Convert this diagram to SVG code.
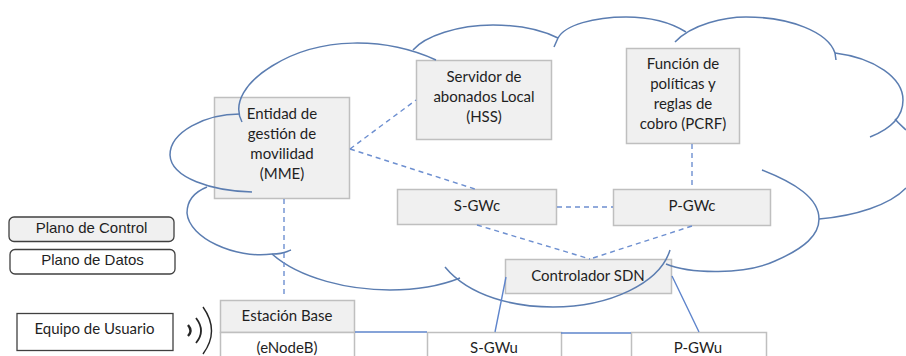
<svg xmlns="http://www.w3.org/2000/svg" width="906" height="356" viewBox="0 0 906 356">
<style>
.cloud{fill:none;stroke:#5b7db1;stroke-width:1.5}
.box{stroke:#bfbfbf;stroke-width:1.5}
.c{fill:#f0f0f0}
.d{fill:#fff}
.dash{fill:none;stroke:#6d8fd0;stroke-width:1.4;stroke-dasharray:5 4}
.solid{fill:none;stroke:#5f85cc;stroke-width:1.4}
text{font-family:Lato,"Open Sans",sans-serif;font-size:15px;fill:#1f1f1f;text-anchor:middle}
.leg{font-family:"Liberation Sans",Arial,sans-serif;font-size:15px}
.lb{stroke:#404040;stroke-width:1.3}
</style>
<rect width="906" height="356" fill="#fff"/>
<g id="mme"><rect class="box c" x="214.500" y="97.500" width="135" height="101"/><text x="282" y="119">Entidad de</text><text x="282" y="139">gestión de</text><text x="282" y="159">movilidad</text><text x="282" y="179">(MME)</text></g>
<g id="hss"><rect class="box c" x="416.500" y="60.500" width="135" height="79"/><text x="484" y="82">Servidor de</text><text x="484" y="102">abonados Local</text><text x="484" y="122">(HSS)</text></g>
<g id="pcrf"><rect class="box c" x="626.500" y="48.500" width="113" height="95"/><text x="683" y="69">Función de</text><text x="683" y="89">políticas y</text><text x="683" y="109">reglas de</text><text x="683" y="129">cobro (PCRF)</text></g>
<g id="sgwc"><rect class="box c" x="397.500" y="189.500" width="159" height="35"/><text x="477" y="211">S-GWc</text></g>
<g id="pgwc"><rect class="box c" x="613.500" y="189.500" width="157" height="36"/><text x="692" y="211">P-GWc</text></g>
<g id="sdn"><rect class="box c" x="505.500" y="259.500" width="166" height="34"/><text x="588" y="281">Controlador SDN</text></g>
<g id="enb"><rect class="box c" x="220.500" y="300.500" width="134" height="32"/><text x="287" y="321">Estación Base</text></g>
<g id="enodeb"><rect class="box d" x="220.500" y="332.500" width="134" height="30"/><text x="287" y="353">(eNodeB)</text></g>
<g id="sgwu"><rect class="box d" x="427.500" y="332.500" width="134" height="30"/><text x="494" y="353">S-GWu</text></g>
<g id="pgwu"><rect class="box d" x="631.500" y="332.500" width="135" height="30"/><text x="698" y="353">P-GWu</text></g>
<g id="plano-control"><rect class="lb c" x="9" y="217" width="165" height="24.500" rx="5"/><text class="leg" x="91.500" y="233">Plano de Control</text></g>
<g id="plano-datos"><rect class="lb d" x="10" y="249.500" width="165" height="24.500" rx="5"/><text class="leg" x="92.500" y="265">Plano de Datos</text></g>
<g id="ue"><rect class="lb d" x="17" y="313.500" width="156" height="37"/><text x="94.500" y="334">Equipo de Usuario</text></g>
<g id="cloud">
<path class="cloud" d="M436 60C385 37 320 36 272 66C246 82 232 103 242 122"/>
<path class="cloud" d="M240 114C205 114 170 132 170 155C171 178 212 191 252 192"/>
<path class="cloud" d="M207 187C192 193 187 203 187 213C189 238 235 259 272 254C285 254 285 252 291 250"/>
<path class="cloud" d="M272 254C300 279 350 290 390 290C420 290 440 286 460 278"/>
<path class="cloud" d="M445 267C470 297 515 307 553 307C610 307 660 283 670 250"/>
<path class="cloud" d="M666 264C690 274 745 275 775 261C805 248 819 235 819 219C819 198 795 183 762 170"/>
<path class="cloud" d="M819 219C855 216 890 205 906 188"/>
<path class="cloud" d="M870 137C893 128 903 115 903 100C903 78 875 58 835 53L836 60"/>
<path class="cloud" d="M895 119C899 124 903 127 906 130"/>
<path class="cloud" d="M675 42C692 24 725 17 746 17C790 17 828 32 835 53"/>
<path class="cloud" d="M686 32C670 22 650 17 626 17C594 17 565 25 558 38L554 47"/>
<path class="cloud" d="M558 38C540 29 515 25 493 25C458 25 425 36 413 50"/>
</g>
<g id="connectors">
<path class="dash" d="M350 149L416 100M350 149L478 190M284 199V298M477 225L590 259M692 144V189M557 207H613M692 226L590 259"/>
<path class="solid" d="M355 332H427M561 333H631M506 277L495 332M672 276L699 332"/>
</g>
<g id="radio" fill="none" stroke="#262626" stroke-width="1.400">
<path d="M188 325Q193 331 188 336" stroke-width="2.400"/>
<path d="M196 318Q206 331 196 343" stroke-width="1.800"/>
<path d="M203 307Q220 331 203 354"/>
</g>
</svg>
